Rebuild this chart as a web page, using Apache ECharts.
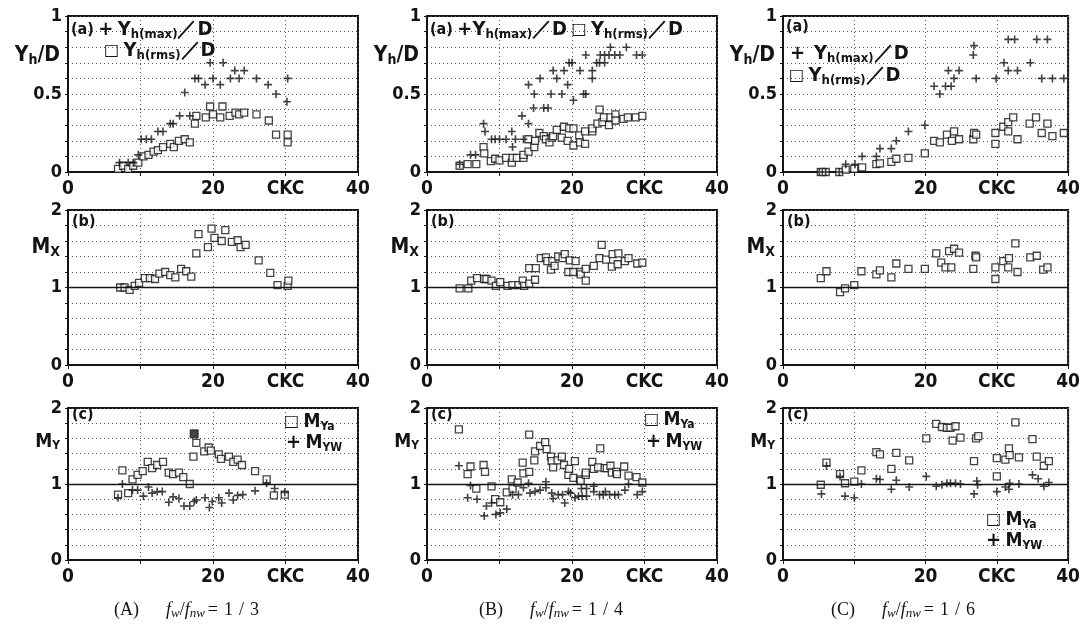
<!DOCTYPE html>
<html>
<head>
<meta charset="utf-8">
<script src="https://cdn.jsdelivr.net/npm/echarts@6/dist/echarts.min.js"></script>
<style>
  html, body { margin: 0; padding: 0; background: #fff; }
  #chart { width: 1083px; height: 626px; }
</style>
</head>
<body>
<div id="chart"></div>
<script>
// x 轴刻度文字（30 处写单位 CKC）
const xTickText = { 0: "0", 20: "20", 30: "CKC", 40: "40" };

// (A) fw/fnw = 1/3
const A_ymax = [[7.1,0.06],[8.3,0.06],[9.0,0.06],[9.7,0.11],[10.1,0.21],[10.8,0.21],[11.5,0.21],[12.4,0.26],[13.1,0.26],[14.1,0.31],[14.5,0.31],[15.4,0.36],[16.1,0.51],[16.8,0.36],[17.5,0.60],[18.0,0.60],[18.9,0.56],[19.6,0.70],[20.0,0.60],[21.0,0.56],[21.4,0.70],[22.4,0.60],[23.0,0.65],[23.6,0.60],[24.3,0.65],[26.0,0.60],[27.6,0.56],[28.7,0.50],[30.3,0.60],[30.2,0.45]];
const A_yrms = [[6.9,0.02],[7.6,0.04],[8.3,0.02],[9.0,0.04],[9.7,0.06],[10.4,0.10],[11.1,0.11],[11.8,0.13],[12.4,0.14],[13.1,0.16],[14.1,0.18],[14.6,0.16],[15.3,0.20],[16.1,0.21],[16.8,0.19],[17.5,0.31],[17.7,0.36],[19.0,0.35],[19.6,0.42],[20.0,0.37],[21.0,0.35],[21.3,0.42],[22.3,0.36],[23.1,0.38],[23.6,0.37],[24.3,0.38],[26.0,0.37],[27.7,0.33],[28.7,0.24],[30.3,0.24],[30.3,0.19]];
const A_mx = [[7.2,1.0],[7.8,1.0],[8.5,0.97],[9.2,1.02],[9.8,1.06],[10.6,1.12],[11.3,1.12],[12.0,1.11],[12.6,1.18],[13.4,1.20],[14.1,1.16],[14.8,1.13],[15.6,1.24],[16.3,1.21],[17.0,1.14],[17.7,1.44],[18.0,1.69],[19.3,1.52],[19.8,1.76],[20.2,1.64],[21.2,1.60],[21.7,1.74],[22.6,1.59],[23.4,1.61],[23.8,1.52],[24.5,1.55],[26.3,1.35],[27.9,1.19],[28.9,1.03],[30.3,1.02],[30.4,1.09]];
const A_mya = [[7.5,1.18],[6.9,0.86],[8.3,0.88],[8.9,1.06],[9.6,1.12],[10.3,1.17],[11.0,1.29],[11.6,1.21],[12.3,1.25],[13.1,1.29],[13.9,1.15],[14.5,1.13],[15.3,1.15],[15.9,1.09],[16.8,1.0],[17.7,1.54],[17.3,1.36],[18.8,1.43],[19.4,1.48],[19.7,1.44],[20.8,1.39],[21.1,1.33],[22.2,1.36],[22.8,1.29],[23.4,1.32],[24.0,1.25],[25.8,1.17],[27.4,1.06],[28.4,0.85],[29.9,0.86]];
const A_myaSolid = [[17.4,1.66]];
const A_myw = [[6.9,0.82],[7.5,1.0],[8.9,0.92],[9.6,0.92],[10.4,0.84],[11.1,0.96],[11.6,0.88],[12.3,0.90],[13.0,0.90],[13.9,0.76],[14.5,0.83],[15.3,0.81],[16.0,0.71],[16.8,0.71],[17.4,0.77],[17.7,0.79],[18.9,0.82],[19.5,0.69],[19.9,0.77],[20.8,0.82],[21.2,0.75],[22.2,0.88],[22.8,0.79],[23.4,0.85],[24.1,0.86],[25.8,0.91],[27.4,1.01],[28.5,0.94],[29.9,0.89]];

// (B) fw/fnw = 1/4
const B_ymax = [[4.5,0.05],[6.0,0.11],[6.7,0.11],[7.8,0.31],[8.0,0.26],[8.9,0.21],[9.4,0.21],[10.0,0.21],[10.9,0.21],[11.7,0.26],[11.8,0.16],[12.2,0.21],[13.3,0.21],[13.1,0.36],[14.0,0.31],[14.0,0.56],[14.7,0.41],[16.1,0.41],[16.7,0.41],[14.8,0.50],[15.6,0.60],[17.1,0.50],[17.4,0.65],[17.9,0.60],[18.6,0.50],[18.9,0.65],[19.4,0.56],[19.6,0.70],[20.0,0.70],[20.2,0.46],[21.1,0.65],[21.6,0.50],[21.9,0.50],[21.9,0.75],[22.8,0.65],[22.8,0.60],[23.4,0.70],[23.8,0.70],[24.5,0.70],[23.9,0.75],[24.5,0.75],[25.1,0.75],[25.9,0.75],[26.6,0.75],[25.3,0.80],[27.5,0.80],[28.9,0.75],[29.7,0.75]];
const B_yrms = [[4.5,0.04],[5.6,0.05],[6.8,0.05],[7.8,0.16],[7.9,0.12],[8.8,0.07],[9.4,0.085],[10.0,0.075],[10.9,0.09],[11.7,0.06],[11.8,0.09],[12.4,0.09],[13.3,0.09],[13.3,0.11],[14.0,0.13],[14.0,0.21],[14.8,0.16],[14.9,0.20],[15.5,0.25],[16.1,0.23],[16.4,0.21],[16.9,0.19],[17.2,0.22],[17.4,0.23],[17.9,0.27],[18.6,0.22],[18.9,0.29],[19.4,0.20],[19.6,0.28],[20.2,0.28],[20.2,0.17],[21.0,0.235],[21.1,0.19],[21.8,0.18],[21.8,0.26],[22.8,0.26],[22.8,0.28],[23.5,0.31],[23.8,0.40],[24.2,0.32],[24.4,0.35],[25.1,0.30],[25.3,0.35],[26.0,0.37],[26.0,0.33],[27.1,0.34],[27.7,0.35],[28.8,0.35],[29.7,0.36]];
const B_mx = [[4.5,0.99],[5.7,0.99],[6.1,1.09],[6.9,1.12],[7.9,1.11],[8.2,1.11],[8.9,1.09],[9.5,1.02],[10.1,1.07],[11.1,1.02],[11.8,1.03],[12.6,1.03],[13.2,1.09],[13.4,1.02],[14.1,1.05],[14.1,1.25],[14.9,1.10],[15.0,1.25],[15.7,1.38],[16.4,1.39],[16.6,1.34],[17.1,1.23],[17.3,1.34],[17.6,1.28],[18.1,1.40],[18.7,1.38],[19.0,1.43],[19.7,1.35],[19.5,1.20],[20.2,1.20],[20.5,1.34],[21.1,1.20],[21.2,1.17],[21.9,1.24],[21.9,1.09],[23.0,1.28],[23.8,1.38],[24.1,1.55],[24.7,1.36],[25.5,1.27],[25.6,1.43],[26.3,1.30],[26.4,1.44],[27.3,1.34],[27.8,1.38],[29.0,1.31],[29.7,1.32]];
const B_mya = [[4.4,1.72],[5.6,1.13],[6.0,1.23],[6.8,0.94],[7.8,1.25],[8.0,1.16],[8.9,0.97],[9.4,0.80],[10.1,0.76],[11.0,0.89],[11.7,1.06],[11.8,0.94],[12.5,1.02],[13.2,1.28],[13.3,1.14],[14.1,1.16],[14.1,1.65],[14.8,1.31],[14.9,1.43],[15.6,1.50],[16.3,1.55],[16.5,1.46],[17.1,1.36],[17.2,1.30],[17.4,1.22],[18.0,1.31],[18.6,1.36],[18.9,1.25],[19.5,1.12],[19.6,1.20],[20.2,1.08],[20.4,1.30],[21.1,1.06],[21.2,1.04],[21.9,1.12],[21.9,1.15],[22.8,1.29],[23.0,1.20],[23.6,1.22],[23.9,1.47],[24.5,1.21],[24.8,1.21],[25.3,1.24],[25.5,1.15],[26.1,1.16],[26.2,1.13],[27.2,1.23],[27.8,1.11],[28.9,1.09],[29.7,1.02]];
const B_myw = [[4.4,1.24],[5.6,0.82],[6.0,0.98],[6.9,0.80],[7.9,0.58],[8.2,0.71],[8.9,0.75],[9.5,0.60],[10.1,0.62],[11.0,0.67],[11.8,0.86],[12.6,0.86],[13.3,0.95],[14.0,1.01],[14.2,0.88],[14.9,0.90],[15.6,0.92],[16.4,0.95],[16.4,1.03],[17.2,0.88],[17.4,0.81],[18.1,0.86],[18.7,0.86],[19.0,0.75],[19.5,0.90],[19.8,0.88],[20.4,0.82],[20.9,0.84],[21.4,0.84],[22.0,0.84],[21.3,0.94],[22.0,0.94],[23.0,0.97],[23.0,0.90],[23.8,0.86],[24.3,0.86],[24.6,0.90],[25.2,0.86],[25.9,0.86],[26.4,0.86],[27.3,0.92],[27.8,1.0],[29.0,0.86],[29.7,0.90]];

// (C) fw/fnw = 1/6
const C_ymax = [[5.1,0.0],[6.0,0.0],[7.9,0.0],[8.8,0.05],[10.1,0.05],[11.1,0.10],[13.1,0.10],[13.6,0.15],[15.2,0.15],[15.9,0.20],[17.6,0.26],[19.9,0.30],[21.2,0.55],[22.0,0.50],[22.8,0.55],[23.6,0.55],[23.2,0.65],[24.7,0.65],[24.0,0.60],[26.7,0.75],[26.8,0.81],[27.1,0.60],[29.9,0.60],[31.0,0.70],[31.6,0.65],[32.9,0.65],[31.6,0.85],[32.5,0.85],[34.7,0.70],[35.6,0.85],[37.1,0.85],[36.3,0.60],[37.8,0.60],[39.4,0.60]];
const C_yrms = [[5.3,0.0],[6.0,0.0],[7.9,0.0],[8.8,0.015],[10.0,0.02],[11.1,0.03],[13.1,0.05],[13.6,0.055],[15.2,0.065],[15.9,0.085],[17.6,0.09],[19.9,0.12],[21.2,0.20],[22.0,0.19],[23.0,0.24],[23.7,0.20],[24.0,0.26],[24.7,0.21],[26.7,0.21],[26.8,0.25],[27.1,0.24],[29.8,0.25],[29.8,0.18],[30.9,0.29],[31.6,0.32],[31.6,0.26],[32.3,0.35],[32.9,0.21],[34.6,0.31],[35.5,0.35],[36.3,0.25],[37.1,0.31],[37.8,0.23],[39.4,0.25]];
const C_mx = [[5.3,1.12],[6.1,1.21],[8.0,0.94],[8.7,0.99],[10.0,1.03],[11.0,1.21],[13.1,1.17],[13.6,1.22],[15.2,1.13],[15.9,1.31],[17.6,1.24],[19.9,1.24],[21.5,1.44],[22.2,1.32],[22.8,1.26],[23.6,1.26],[23.3,1.47],[24.0,1.50],[24.7,1.45],[26.7,1.24],[27.0,1.41],[27.1,1.39],[29.8,1.26],[29.8,1.11],[30.9,1.34],[31.6,1.26],[31.7,1.38],[32.6,1.57],[32.9,1.20],[34.7,1.39],[35.6,1.41],[36.5,1.23],[37.1,1.26]];
const C_mya = [[5.3,0.99],[6.1,1.28],[8.0,1.13],[8.7,1.01],[10.0,1.03],[11.0,1.18],[13.1,1.42],[13.6,1.39],[15.2,1.20],[15.9,1.41],[17.7,1.31],[20.1,1.60],[21.5,1.79],[22.3,1.75],[23.0,1.74],[23.5,1.74],[24.2,1.76],[23.8,1.57],[24.9,1.61],[26.8,1.30],[27.1,1.60],[27.4,1.63],[30.0,1.34],[30.0,1.10],[31.2,1.32],[31.7,1.47],[31.8,1.38],[32.6,1.81],[33.1,1.35],[35.0,1.59],[35.6,1.36],[36.6,1.24],[37.3,1.30]];
const C_myw = [[5.4,0.87],[6.1,1.24],[8.0,1.10],[8.7,0.84],[10.0,0.82],[11.0,1.0],[13.1,1.07],[13.6,1.06],[15.2,0.93],[15.9,1.05],[17.7,0.96],[20.1,1.10],[21.5,0.97],[22.3,0.99],[23.0,1.01],[23.5,1.01],[24.2,1.01],[24.9,1.0],[26.8,0.87],[27.2,1.04],[27.3,0.99],[30.0,0.90],[31.2,0.96],[31.7,0.93],[31.8,1.01],[33.1,1.0],[35.0,1.12],[35.8,1.07],[36.6,0.97],[37.3,1.02]];

// 底部说明的比值
const captionTags = ["(A)", "(B)", "(C)"];
const captionRatios = ["1/3", "1/4", "1/6"];

const FONT = "'DejaVu Sans Condensed','Liberation Sans',sans-serif";
const SERIF = "'Liberation Serif','DejaVu Serif',serif";
const PLUS = "path://M4,0H6V4H10V6H6V10H4V6H0V4H4Z";
const INK = "#141414";

// 版面：三列三行
const colLeft = [68, 427, 783];
const rowTop = [16, 210, 408];
const rowH = [156, 155, 152];
const PW = 290;

const panels = [
  { col: 0, row: 0, plus: A_ymax, box: A_yrms },
  { col: 0, row: 1, box: A_mx },
  { col: 0, row: 2, plus: A_myw, box: A_mya, solid: A_myaSolid },
  { col: 1, row: 0, plus: B_ymax, box: B_yrms },
  { col: 1, row: 1, box: B_mx },
  { col: 1, row: 2, plus: B_myw, box: B_mya },
  { col: 2, row: 0, plus: C_ymax, box: C_yrms },
  { col: 2, row: 1, box: C_mx },
  { col: 2, row: 2, plus: C_myw, box: C_mya },
];

const grid = [], xAxis = [], yAxis = [], series = [];

panels.forEach((p, i) => {
  grid.push({
    left: colLeft[p.col], top: rowTop[p.row], width: PW, height: rowH[p.row],
    show: true, borderColor: INK, borderWidth: 2, backgroundColor: "#fff",
  });
  xAxis.push({
    gridIndex: i, type: "value", min: 0, max: 40, interval: 10,
    axisLine: { show: true, onZero: false, lineStyle: { color: INK, width: 2 } },
    axisTick: { show: true, length: 4, lineStyle: { color: INK } },
    axisLabel: {
      margin: 8, fontSize: 19, fontWeight: "bold", fontFamily: FONT, color: INK,
      formatter: (v) => xTickText[v] || "",
    },
    splitLine: { show: true, lineStyle: { type: [1, 3], color: "#555", width: 1 } },
  });
  const isA = p.row === 0;
  yAxis.push({
    gridIndex: i, type: "value", min: 0, max: isA ? 1 : 2, interval: isA ? 0.1 : 0.2,
    axisLine: { show: true, lineStyle: { color: INK, width: 2 } },
    axisTick: { show: true, length: 3, lineStyle: { color: INK } },
    axisLabel: {
      margin: 6, fontSize: 18, fontWeight: "bold", fontFamily: FONT, color: INK,
      formatter: (v) => {
        if (isA) {
          if (Math.abs(v) < 1e-6) return "0";
          if (Math.abs(v - 0.5) < 1e-6) return "0.5";
          if (Math.abs(v - 1) < 1e-6) return "1";
          return "";
        }
        if (Math.abs(v) < 1e-6) return "0";
        if (Math.abs(v - 1) < 1e-6) return "1";
        if (Math.abs(v - 2) < 1e-6) return "2";
        return "";
      },
    },
    splitLine: { show: true, lineStyle: { type: [1, 3], color: "#555", width: 1 } },
  });

  const boxSeries = {
    type: "scatter", xAxisIndex: i, yAxisIndex: i, data: p.box,
    symbol: "rect", symbolSize: 7, z: 3,
    itemStyle: { color: "#fff", borderColor: INK, borderWidth: 1.3 },
  };
  if (p.row > 0) {
    // M = 1 的实线
    boxSeries.markLine = {
      silent: true, symbol: "none", label: { show: false },
      lineStyle: { color: INK, width: 1.3, type: "solid" },
      data: [{ yAxis: 1 }],
    };
  }
  series.push(boxSeries);
  if (p.plus) {
    series.push({
      type: "scatter", xAxisIndex: i, yAxisIndex: i, data: p.plus,
      symbol: PLUS, symbolSize: 8, z: 4,
      itemStyle: { color: INK },
    });
  }
  if (p.solid) {
    series.push({
      type: "scatter", xAxisIndex: i, yAxisIndex: i, data: p.solid,
      symbol: "rect", symbolSize: 8, z: 4,
      itemStyle: { color: INK, borderColor: INK, borderWidth: 1 },
    });
  }
});

// 富文本样式：大字 + 下标
const rich = {
  n: { fontSize: 16, fontFamily: FONT, fontWeight: "bold", color: INK, lineHeight: 22 },
  b: { fontSize: 20, fontFamily: FONT, fontWeight: "bold", color: INK, lineHeight: 22 },
  s: { fontSize: 13, fontFamily: FONT, fontWeight: "bold", color: INK, lineHeight: 13, verticalAlign: "bottom" },
  q: { fontSize: 16, fontFamily: "'DejaVu Sans',sans-serif", fontWeight: "bold", color: INK, lineHeight: 22 },
  Y: { fontSize: 21, fontFamily: FONT, fontWeight: "bold", color: INK, lineHeight: 22 },
  ys: { fontSize: 14, fontFamily: FONT, fontWeight: "bold", color: INK, lineHeight: 14, verticalAlign: "bottom" },
  m: { fontSize: 19, fontFamily: FONT, fontWeight: "bold", color: INK, lineHeight: 20 },
  ms: { fontSize: 12, fontFamily: FONT, fontWeight: "bold", color: INK, lineHeight: 12, verticalAlign: "bottom" },
  cn: { fontSize: 18, fontFamily: SERIF, fontWeight: "normal", color: INK, lineHeight: 20 },
  cw: { fontSize: 18, fontFamily: SERIF, fontWeight: "normal", color: INK, lineHeight: 20, padding: [0, 3, 0, 3] },
  ci: { fontSize: 18, fontFamily: SERIF, fontWeight: "normal", fontStyle: "italic", color: INK, lineHeight: 20 },
  cs: { fontSize: 13, fontFamily: SERIF, fontWeight: "normal", fontStyle: "italic", color: INK, lineHeight: 13, verticalAlign: "bottom" },
};

const T = (text, left, top, align) => ({
  text, left, top, textAlign: align || "left",
  textStyle: { rich, fontSize: 16 }, padding: 0,
});

const yMax = "{b|Y}{s|h(max)}{b|／D}";
const yRms = "{b|Y}{s|h(rms)}{b|／D}";
const title = [];

// 纵轴名称
[0, 1, 2].forEach((c) => {
  const x = colLeft[c] - 8;
  title.push(T("{Y|Y}{ys|h}{Y|/D}", x, 45, "right"));
  title.push(T("{Y|M}{ys|X}", x, 237, "right"));
  title.push(T("{m|M}{ms|Y}", x, 432, "right"));
  title.push(T("{n|(b)}", colLeft[c] + 4, 211));
  title.push(T("{n|(c)}", colLeft[c] + 4, 404));
});

// (a) 图例
title.push(T("{n|(a)} {b|+} " + yMax, 71, 19));
title.push(T("{q|□} " + yRms, 104, 40));
title.push(T("{n|(a)} {b|+}" + yMax + " {q|□} " + yRms, 430, 19));
title.push(T("{n|(a)}", 786, 16));
title.push(T("{b|+}  " + yMax, 790, 43));
title.push(T("{q|□} " + yRms, 789, 65));

// (c) 图例
title.push(T("{q|□} {m|M}{ms|Ya}", 284, 411));
title.push(T("{b|+} {m|M}{ms|YW}", 286, 432));
title.push(T("{q|□} {m|M}{ms|Ya}", 644, 409));
title.push(T("{b|+} {m|M}{ms|YW}", 646, 431));
title.push(T("{q|□} {m|M}{ms|Ya}", 986, 509));
title.push(T("{b|+} {m|M}{ms|YW}", 986, 530));

// 底部说明
const capLeft = [114, 479, 831];
captionTags.forEach((tag, c) => {
  const ratio = captionRatios[c].split("").map((ch) => "{cw|" + ch + "}").join("");
  title.push(T("{cn|" + tag + "}{cn|      }{ci|f}{cs|w}{cn|/}{ci|f}{cs|nw}{cw|=}" + ratio, capLeft[c], 600));
});

const chart = echarts.init(document.getElementById("chart"));
chart.setOption({
  animation: false,
  backgroundColor: "#fff",
  title,
  grid,
  xAxis,
  yAxis,
  series,
});
</script>
</body>
</html>
